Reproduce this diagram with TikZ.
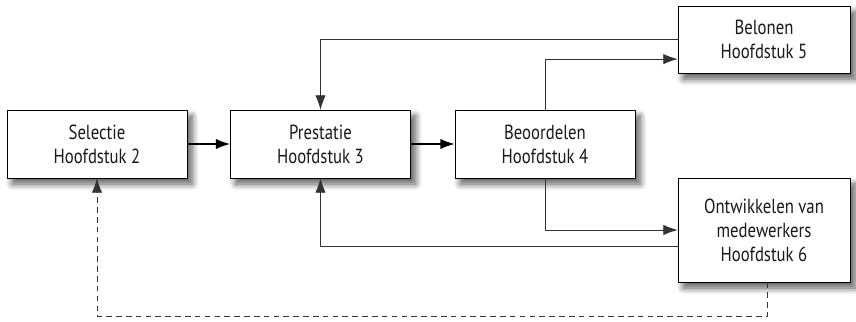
\documentclass[tikz,border=0pt]{standalone}
\usepackage{fontspec}
\setmainfont{PT Sans}[FakeStretch=0.82]
\usetikzlibrary{arrows.meta,shadows.blur}
\begin{document}
\begin{tikzpicture}[x=0.025cm, y=-0.025cm, line join=round, >={Latex[length=3.6mm,width=2.6mm]},
	hoofdstuk/.style={draw, thin, fill=white, align=center, minimum width=4.5cm, minimum height=1.7cm,
		font=\fontsize{14.5pt}{17pt}\selectfont, text=black!90,
		blur shadow={shadow xshift=1.3mm, shadow yshift=-1.5mm, shadow blur steps=8, shadow blur radius=1.6mm, shadow opacity=65}},
	pijl/.style={->, line width=1.1pt},
	terug/.style={->, line width=0.6pt, draw=black!80}]
	\useasboundingbox (0,0) rectangle (856,322);

	% Hoofdstukken
	\node[hoofdstuk] (sel) at (97,144) {Selectie\\Hoofdstuk 2};
	\node[hoofdstuk] (pre) at (320.5,144) {Prestatie\\Hoofdstuk 3};
	\node[hoofdstuk] (beo) at (545,144) {Beoordelen\\Hoofdstuk 4};
	\node[hoofdstuk, minimum width=4.3cm, minimum height=1.68cm] (bel) at (764,39.5) {Belonen\\Hoofdstuk 5};
	\node[hoofdstuk, minimum width=4.3cm, minimum height=2.6cm] (ont) at (764,230) {Ontwikkelen van\\medewerkers\\Hoofdstuk 6};

	% Hoofdlijn
	\draw[pijl] (sel) -- (pre);
	\draw[pijl] (pre) -- (beo);

	% Takken naar 5 en 6
	\draw[terug] (beo.north) |- ([yshift=-0.49cm]bel.west);
	\draw[terug] (beo.south) |- (ont.west);

	% Terug naar Prestatie
	\draw[terug] (bel.west) -| (pre.north);
	\draw[terug] ([yshift=-0.42cm]ont.west) -| (pre.south);

	% Terug naar Selectie
	\coordinate (dip) at (97,316);
	\draw[terug, dashed, dash pattern=on 4pt off 3pt] ([xshift=0.08cm]ont.south) |- (dip) -- (sel.south);
\end{tikzpicture}
\end{document}
